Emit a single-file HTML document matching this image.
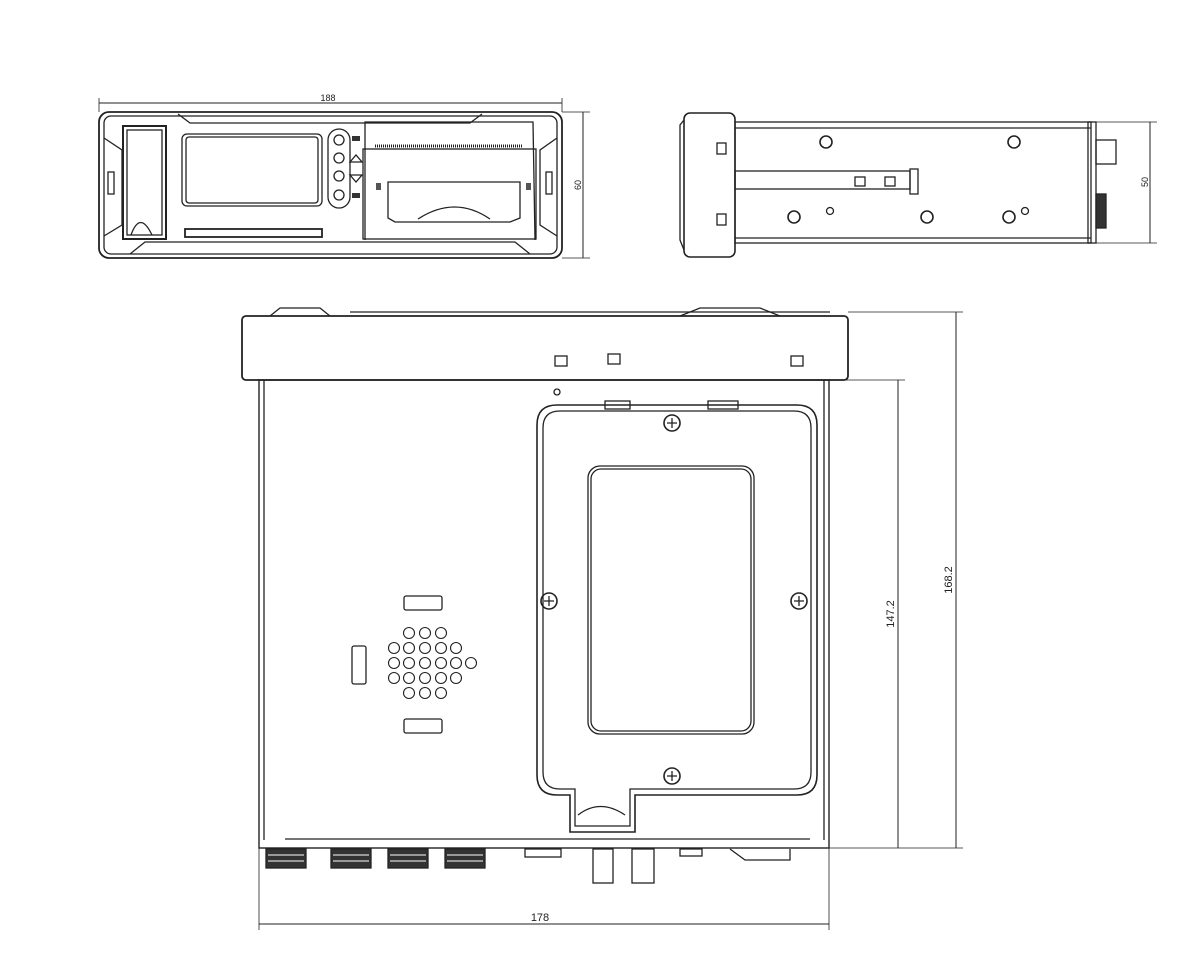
<!DOCTYPE html>
<html><head><meta charset="utf-8"><style>html,body{margin:0;padding:0;background:#fff}svg{display:block}</style></head>
<body>
<svg width="1200" height="960" viewBox="0 0 1200 960" xmlns="http://www.w3.org/2000/svg" fill="none" stroke="#222" stroke-width="1.3" font-family="Liberation Sans, sans-serif">
<!-- FRONT VIEW -->
<line x1="99" y1="103" x2="562" y2="103" stroke-width="1"/>
<line x1="99" y1="98" x2="99" y2="112" stroke-width="0.8"/>
<line x1="562" y1="98" x2="562" y2="112" stroke-width="0.8"/>
<text x="328" y="101" font-size="9" fill="#222" stroke="none" text-anchor="middle">188</text>
<line x1="583" y1="112" x2="583" y2="258" stroke-width="1"/>
<line x1="562" y1="112" x2="590" y2="112" stroke-width="0.8"/>
<line x1="562" y1="258" x2="590" y2="258" stroke-width="0.8"/>
<text x="0" y="0" font-size="9" fill="#222" stroke="none" transform="translate(581,185) rotate(-90)" text-anchor="middle">60</text>
<rect x="99" y="112" width="463" height="146" rx="10" stroke-width="1.8"/>
<rect x="104" y="116" width="453" height="138" rx="7"/>
<path d="M178 114 L190 123 L470 123 L482 114"/>
<path d="M130 254 L145 242 L515 242 L530 254"/>
<path d="M104 138 L122 150 L122 225 L104 236"/>
<path d="M557 138 L540 150 L540 225 L557 236"/>
<rect x="108" y="172" width="6" height="22"/><rect x="546" y="172" width="6" height="22"/>
<rect x="123" y="126" width="43" height="113" stroke-width="2"/>
<rect x="127" y="130" width="35" height="105"/>
<path d="M131 235 Q140 210 152 235"/>
<rect x="182" y="134" width="140" height="72" rx="5"/>
<rect x="186" y="137" width="132" height="66" rx="3"/>
<rect x="185" y="229" width="137" height="8" stroke-width="1.8"/>
<rect x="328" y="129" width="22" height="79" rx="11"/>
<circle cx="339" cy="140" r="5"/><circle cx="339" cy="158" r="5"/><circle cx="339" cy="176" r="5"/><circle cx="339" cy="195" r="5"/>
<path d="M350 162 L356 155 L362 162 Z"/><path d="M350 175 L356 182 L362 175 Z"/>
<rect x="352" y="136" width="8" height="5" fill="#333" stroke="none"/><rect x="352" y="193" width="8" height="5" fill="#333" stroke="none"/>
<path d="M365 240 L365 122 L533 122 L535 240"/>
<rect x="363" y="149" width="173" height="90"/>
<line x1="375" y1="146" x2="523" y2="146" stroke-width="3" stroke-dasharray="1 1"/>
<path d="M388 182 L520 182 L520 218 L510 222 L395 222 L388 218 Z"/>
<path d="M418 219 Q455 195 490 219"/>
<rect x="376" y="183" width="5" height="7" fill="#555" stroke="none"/><rect x="526" y="183" width="5" height="7" fill="#555" stroke="none"/>

<!-- SIDE VIEW -->
<rect x="684" y="113" width="51" height="144" rx="6" stroke-width="1.6"/>
<path d="M684 120 L680 125 L680 240 L684 250"/>
<rect x="717" y="143" width="9" height="11"/><rect x="717" y="214" width="9" height="11"/>
<rect x="735" y="122" width="356" height="121"/>
<line x1="735" y1="128" x2="1091" y2="128"/><line x1="735" y1="238" x2="1091" y2="238"/>
<rect x="735" y="171" width="175" height="18"/>
<rect x="910" y="169" width="8" height="25"/>
<rect x="855" y="177" width="10" height="9"/><rect x="885" y="177" width="10" height="9"/>
<g stroke-width="1.6"><circle cx="826" cy="142" r="6"/><circle cx="1014" cy="142" r="6"/><circle cx="794" cy="217" r="6"/><circle cx="927" cy="217" r="6"/><circle cx="1009" cy="217" r="6"/></g>
<circle cx="830" cy="211" r="3.5"/><circle cx="1025" cy="211" r="3.5"/>
<rect x="1088" y="122" width="8" height="121"/>
<rect x="1096" y="140" width="20" height="24"/>
<rect x="1096" y="194" width="10" height="34" fill="#333"/>
<line x1="1150" y1="122" x2="1150" y2="243" stroke-width="1"/>
<line x1="1096" y1="122" x2="1157" y2="122" stroke-width="0.8"/><line x1="1096" y1="243" x2="1157" y2="243" stroke-width="0.8"/>
<text x="0" y="0" font-size="9" fill="#222" stroke="none" transform="translate(1148,182) rotate(-90)" text-anchor="middle">50</text>

<!-- TOP VIEW -->
<rect x="242" y="316" width="606" height="64" rx="4" stroke-width="1.8"/>
<path d="M270 316 L280 308 L320 308 L330 316 M680 316 L700 308 L760 308 L780 316"/>
<line x1="350" y1="312" x2="830" y2="312"/>
<rect x="555" y="356" width="12" height="10"/><rect x="608" y="354" width="12" height="10"/><rect x="791" y="356" width="12" height="10"/>
<rect x="259" y="380" width="570" height="468" stroke-width="1.4"/>
<line x1="264" y1="380" x2="264" y2="840"/><line x1="824" y1="380" x2="824" y2="840"/>
<circle cx="557" cy="392" r="3"/>
<path d="M537 425 Q537 405 557 405 L797 405 Q817 405 817 425 L817 775 Q817 795 797 795 L635 795 L635 832 L570 832 L570 795 L557 795 Q537 795 537 775 Z" stroke-width="1.6"/>
<path d="M543 428 Q543 411 560 411 L794 411 Q811 411 811 428 L811 772 Q811 789 794 789 L630 789 L630 826 L575 826 L575 789 L560 789 Q543 789 543 772 Z"/>
<path d="M578 815 Q600 798 625 815"/>
<rect x="605" y="401" width="25" height="8"/><rect x="708" y="401" width="30" height="8"/>
<rect x="588" y="466" width="166" height="268" rx="12"/>
<rect x="591" y="469" width="160" height="262" rx="10"/>
<g stroke-width="1.6"><circle cx="672" cy="423" r="8"/><circle cx="549" cy="601" r="8"/><circle cx="799" cy="601" r="8"/><circle cx="672" cy="776" r="8"/></g>
<path d="M667 423h10M672 418v10M544 601h10M549 596v10M794 601h10M799 596v10M667 776h10M672 771v10"/>
<rect x="404" y="596" width="38" height="14" rx="2"/><rect x="404" y="719" width="38" height="14" rx="2"/>
<rect x="352" y="646" width="14" height="38" rx="2"/>
<g stroke-width="1.1">
<circle cx="409" cy="633" r="5.5"/><circle cx="425" cy="633" r="5.5"/><circle cx="441" cy="633" r="5.5"/>
<circle cx="394" cy="648" r="5.5"/><circle cx="409" cy="648" r="5.5"/><circle cx="425" cy="648" r="5.5"/><circle cx="441" cy="648" r="5.5"/><circle cx="456" cy="648" r="5.5"/>
<circle cx="394" cy="663" r="5.5"/><circle cx="409" cy="663" r="5.5"/><circle cx="425" cy="663" r="5.5"/><circle cx="441" cy="663" r="5.5"/><circle cx="456" cy="663" r="5.5"/><circle cx="471" cy="663" r="5.5"/>
<circle cx="394" cy="678" r="5.5"/><circle cx="409" cy="678" r="5.5"/><circle cx="425" cy="678" r="5.5"/><circle cx="441" cy="678" r="5.5"/><circle cx="456" cy="678" r="5.5"/>
<circle cx="409" cy="693" r="5.5"/><circle cx="425" cy="693" r="5.5"/><circle cx="441" cy="693" r="5.5"/>
</g>
<line x1="285" y1="839" x2="810" y2="839"/>
<g fill="#333" stroke="#222">
<rect x="266" y="849" width="40" height="19"/><rect x="331" y="849" width="40" height="19"/><rect x="388" y="849" width="40" height="19"/><rect x="445" y="849" width="40" height="19"/>
</g>
<g stroke="#fff" stroke-width="1"><path d="M268 855h36M268 861h36M333 855h36M333 861h36M390 855h36M390 861h36M447 855h36M447 861h36"/></g>
<rect x="525" y="849" width="36" height="8"/>
<rect x="593" y="849" width="20" height="34"/><rect x="632" y="849" width="22" height="34"/>
<rect x="680" y="849" width="22" height="7"/>
<path d="M730 849 L745 860 L790 860 L790 849"/>
<!-- dims -->
<line x1="829" y1="380" x2="905" y2="380" stroke-width="0.8"/>
<line x1="848" y1="312" x2="963" y2="312" stroke-width="0.8"/>
<line x1="829" y1="848" x2="963" y2="848" stroke-width="0.8"/>
<line x1="898" y1="380" x2="898" y2="848" stroke-width="1"/>
<line x1="956" y1="312" x2="956" y2="848" stroke-width="1"/>
<text x="0" y="0" font-size="11" fill="#222" stroke="none" transform="translate(894,614) rotate(-90)" text-anchor="middle">147.2</text>
<text x="0" y="0" font-size="11" fill="#222" stroke="none" transform="translate(952,580) rotate(-90)" text-anchor="middle">168.2</text>
<line x1="259" y1="848" x2="259" y2="930" stroke-width="0.8"/>
<line x1="829" y1="848" x2="829" y2="930" stroke-width="0.8"/>
<line x1="259" y1="924" x2="829" y2="924" stroke-width="1"/>
<text x="540" y="921" font-size="11" fill="#222" stroke="none" text-anchor="middle">178</text>
</svg>
</body></html>
